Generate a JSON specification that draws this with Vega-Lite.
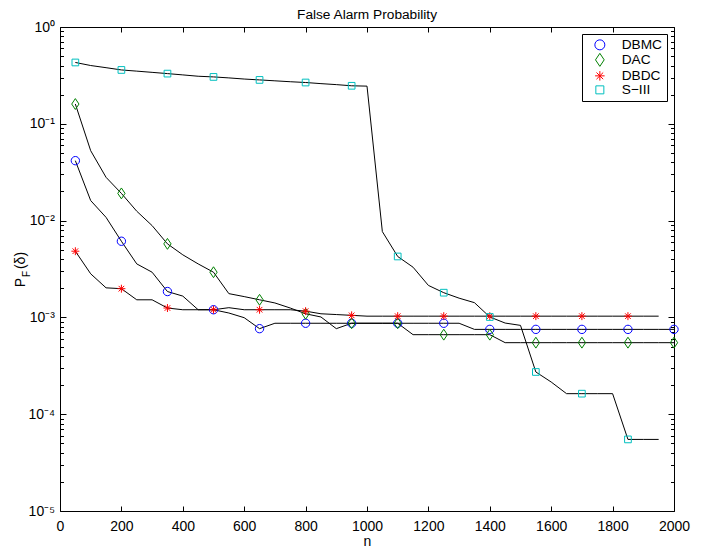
{
  "$schema": "https://vega.github.io/schema/vega-lite/v6.json",
  "width": 614,
  "height": 484,
  "autosize": {"type": "none"},
  "padding": {"left": 60, "top": 27, "right": 36, "bottom": 37},
  "background": "white",
  "title": {"text": "False Alarm Probability", "fontSize": 13.7, "fontWeight": "normal", "font": "Liberation Sans", "color": "black", "offset": 0, "dy": 13, "baseline": "alphabetic", "anchor": "middle"},
  "data": {"values": [
    {"s":"DBMC","n":50,"p":0.0416},{"s":"DBMC","n":100,"p":0.0161},{"s":"DBMC","n":150,"p":0.0108},{"s":"DBMC","n":200,"p":0.00612},
    {"s":"DBMC","n":250,"p":0.00357},{"s":"DBMC","n":300,"p":0.00293},{"s":"DBMC","n":350,"p":0.00185},{"s":"DBMC","n":400,"p":0.00166},
    {"s":"DBMC","n":450,"p":0.0012},{"s":"DBMC","n":500,"p":0.0012},{"s":"DBMC","n":550,"p":0.00111},{"s":"DBMC","n":600,"p":0.000993},
    {"s":"DBMC","n":650,"p":0.000765},{"s":"DBMC","n":700,"p":0.00087},{"s":"DBMC","n":750,"p":0.00087},{"s":"DBMC","n":800,"p":0.00087},
    {"s":"DBMC","n":850,"p":0.00087},{"s":"DBMC","n":900,"p":0.00087},{"s":"DBMC","n":950,"p":0.00087},{"s":"DBMC","n":1000,"p":0.00087},
    {"s":"DBMC","n":1050,"p":0.00087},{"s":"DBMC","n":1100,"p":0.00087},{"s":"DBMC","n":1150,"p":0.00087},{"s":"DBMC","n":1200,"p":0.00087},
    {"s":"DBMC","n":1250,"p":0.00087},{"s":"DBMC","n":1300,"p":0.00087},{"s":"DBMC","n":1350,"p":0.000752},{"s":"DBMC","n":1400,"p":0.000752},
    {"s":"DBMC","n":1450,"p":0.000752},{"s":"DBMC","n":1500,"p":0.000752},{"s":"DBMC","n":1550,"p":0.000752},{"s":"DBMC","n":1600,"p":0.000752},
    {"s":"DBMC","n":1650,"p":0.000752},{"s":"DBMC","n":1700,"p":0.000752},{"s":"DBMC","n":1750,"p":0.000752},{"s":"DBMC","n":1800,"p":0.000752},
    {"s":"DBMC","n":1850,"p":0.000752},{"s":"DBMC","n":1900,"p":0.000752},{"s":"DBMC","n":1950,"p":0.000752},{"s":"DBMC","n":2000,"p":0.000752},

    {"s":"DAC","n":50,"p":0.16},{"s":"DAC","n":100,"p":0.0527},{"s":"DAC","n":150,"p":0.028},{"s":"DAC","n":200,"p":0.0191},
    {"s":"DAC","n":250,"p":0.0125},{"s":"DAC","n":300,"p":0.00888},{"s":"DAC","n":350,"p":0.00575},{"s":"DAC","n":400,"p":0.00443},
    {"s":"DAC","n":450,"p":0.00357},{"s":"DAC","n":500,"p":0.00293},{"s":"DAC","n":550,"p":0.00176},{"s":"DAC","n":600,"p":0.00164},
    {"s":"DAC","n":650,"p":0.00152},{"s":"DAC","n":700,"p":0.00141},{"s":"DAC","n":750,"p":0.00125},{"s":"DAC","n":800,"p":0.00109},
    {"s":"DAC","n":850,"p":0.00101},{"s":"DAC","n":900,"p":0.000765},{"s":"DAC","n":950,"p":0.00087},{"s":"DAC","n":1000,"p":0.00087},
    {"s":"DAC","n":1050,"p":0.00087},{"s":"DAC","n":1100,"p":0.00087},{"s":"DAC","n":1150,"p":0.000663},{"s":"DAC","n":1200,"p":0.000663},
    {"s":"DAC","n":1250,"p":0.000663},{"s":"DAC","n":1300,"p":0.000663},{"s":"DAC","n":1350,"p":0.000663},{"s":"DAC","n":1400,"p":0.000663},
    {"s":"DAC","n":1450,"p":0.000548},{"s":"DAC","n":1500,"p":0.000548},{"s":"DAC","n":1550,"p":0.000548},{"s":"DAC","n":1600,"p":0.000548},
    {"s":"DAC","n":1650,"p":0.000548},{"s":"DAC","n":1700,"p":0.000548},{"s":"DAC","n":1750,"p":0.000548},{"s":"DAC","n":1800,"p":0.000548},
    {"s":"DAC","n":1850,"p":0.000548},{"s":"DAC","n":1900,"p":0.000548},{"s":"DAC","n":1950,"p":0.000548},{"s":"DAC","n":2000,"p":0.000548},

    {"s":"DBDC","n":50,"p":0.00483},{"s":"DBDC","n":100,"p":0.00282},{"s":"DBDC","n":150,"p":0.00202},{"s":"DBDC","n":200,"p":0.00198},
    {"s":"DBDC","n":250,"p":0.00152},{"s":"DBDC","n":300,"p":0.00152},{"s":"DBDC","n":350,"p":0.00125},{"s":"DBDC","n":400,"p":0.0012},
    {"s":"DBDC","n":450,"p":0.0012},{"s":"DBDC","n":500,"p":0.0012},{"s":"DBDC","n":550,"p":0.00126},{"s":"DBDC","n":600,"p":0.0012},
    {"s":"DBDC","n":650,"p":0.0012},{"s":"DBDC","n":700,"p":0.0012},{"s":"DBDC","n":750,"p":0.0012},{"s":"DBDC","n":800,"p":0.00116},
    {"s":"DBDC","n":850,"p":0.00109},{"s":"DBDC","n":900,"p":0.00107},{"s":"DBDC","n":950,"p":0.00105},{"s":"DBDC","n":1000,"p":0.00103},
    {"s":"DBDC","n":1050,"p":0.00103},{"s":"DBDC","n":1100,"p":0.00103},{"s":"DBDC","n":1150,"p":0.00103},{"s":"DBDC","n":1200,"p":0.00103},
    {"s":"DBDC","n":1250,"p":0.00103},{"s":"DBDC","n":1300,"p":0.00103},{"s":"DBDC","n":1350,"p":0.00103},{"s":"DBDC","n":1400,"p":0.00103},
    {"s":"DBDC","n":1450,"p":0.00103},{"s":"DBDC","n":1500,"p":0.00103},{"s":"DBDC","n":1550,"p":0.00103},{"s":"DBDC","n":1600,"p":0.00103},
    {"s":"DBDC","n":1650,"p":0.00103},{"s":"DBDC","n":1700,"p":0.00103},{"s":"DBDC","n":1750,"p":0.00103},{"s":"DBDC","n":1800,"p":0.00103},
    {"s":"DBDC","n":1850,"p":0.00103},{"s":"DBDC","n":1900,"p":0.00103},{"s":"DBDC","n":1950,"p":0.00103},

    {"s":"S-III","n":50,"p":0.43},{"s":"S-III","n":100,"p":0.4},{"s":"S-III","n":150,"p":0.38},{"s":"S-III","n":200,"p":0.36},
    {"s":"S-III","n":250,"p":0.35},{"s":"S-III","n":300,"p":0.34},{"s":"S-III","n":350,"p":0.33},{"s":"S-III","n":400,"p":0.32},
    {"s":"S-III","n":450,"p":0.31},{"s":"S-III","n":500,"p":0.305},{"s":"S-III","n":550,"p":0.298},{"s":"S-III","n":600,"p":0.29},
    {"s":"S-III","n":650,"p":0.284},{"s":"S-III","n":700,"p":0.278},{"s":"S-III","n":750,"p":0.272},{"s":"S-III","n":800,"p":0.267},
    {"s":"S-III","n":850,"p":0.26},{"s":"S-III","n":900,"p":0.254},{"s":"S-III","n":950,"p":0.247},{"s":"S-III","n":1000,"p":0.245},
    {"s":"S-III","n":1050,"p":0.0077},{"s":"S-III","n":1100,"p":0.00426},{"s":"S-III","n":1150,"p":0.0033},{"s":"S-III","n":1200,"p":0.00214},
    {"s":"S-III","n":1250,"p":0.0018},{"s":"S-III","n":1300,"p":0.00158},{"s":"S-III","n":1350,"p":0.00142},{"s":"S-III","n":1400,"p":0.00101},
    {"s":"S-III","n":1450,"p":0.000874},{"s":"S-III","n":1500,"p":0.000827},{"s":"S-III","n":1550,"p":0.000273},{"s":"S-III","n":1600,"p":0.000215},
    {"s":"S-III","n":1650,"p":0.000163},{"s":"S-III","n":1700,"p":0.000163},{"s":"S-III","n":1750,"p":0.000163},{"s":"S-III","n":1800,"p":0.000163},
    {"s":"S-III","n":1850,"p":0.0000549},{"s":"S-III","n":1900,"p":0.0000549},{"s":"S-III","n":1950,"p":0.0000549}
  ]},
  "config": {
    "view": {"stroke": "black", "strokeWidth": 1},
    "axis": {"grid": false, "domain": false, "labelFont": "Liberation Sans", "titleFont": "Liberation Sans", "labelColor": "black", "titleColor": "black", "tickColor": "black", "tickWidth": 1, "labelFontSize": 14, "titleFontSize": 14, "titleFontWeight": "normal", "labelFlush": false},
    "legend": {"orient": "none", "legendX": 522, "legendY": 7, "strokeColor": "black", "fillColor": "white", "padding": 4, "symbolOffset": 7, "labelFont": "Liberation Sans", "labelFontSize": 13.7, "labelColor": "black", "rowPadding": -1, "cornerRadius": 0, "symbolStrokeWidth": 1, "labelOffset": 15}
  },
  "resolve": {"axis": {"x": "independent", "y": "independent"}},
  "layer": [
    {
      "mark": {"type": "line", "color": "black", "strokeWidth": 1},
      "encoding": {
        "x": {"field": "n", "type": "quantitative", "scale": {"domain": [0, 2000], "nice": false, "zero": false},
              "axis": {"orient": "bottom", "values": [0,200,400,600,800,1000,1200,1400,1600,1800,2000], "format": "d", "tickSize": -5, "labelPadding": 24, "labelBaseline": "alphabetic", "title": "n", "titleY": 34, "titleBaseline": "alphabetic"}},
        "y": {"field": "p", "type": "quantitative", "scale": {"type": "log", "domain": [0.00001, 1], "nice": false},
              "axis": {"orient": "left", "values": [0.00001,0.0001,0.001,0.01,0.1,1], "tickSize": -6, "labelPadding": 11.5,
                       "labelExpr": "datum.value > 0.5 ? '10⁰' : datum.value > 0.05 ? '10⁻¹' : datum.value > 0.005 ? '10⁻²' : datum.value > 0.0005 ? '10⁻³' : datum.value > 0.00005 ? '10⁻⁴' : '10⁻⁵'",
                       "title": "P", "titleX": -36, "titleY": 255, "titleAlign": "center", "titleBaseline": "alphabetic"}},
        "detail": {"field": "s", "type": "nominal"}
      }
    },
    {
      "transform": [{"filter": "(datum.n - 50) % 150 == 0"}],
      "mark": {"type": "point", "filled": false, "strokeWidth": 1, "size": 70, "opacity": 1},
      "encoding": {
        "x": {"field": "n", "type": "quantitative",
              "axis": {"orient": "top", "values": [0,200,400,600,800,1000,1200,1400,1600,1800,2000], "tickSize": -5, "labels": false, "title": null}},
        "y": {"field": "p", "type": "quantitative",
              "axis": {"orient": "left", "values": [0.00002,0.00003,0.00004,0.00005,0.00006,0.00007,0.00008,0.00009,0.0002,0.0003,0.0004,0.0005,0.0006,0.0007,0.0008,0.0009,0.002,0.003,0.004,0.005,0.006,0.007,0.008,0.009,0.02,0.03,0.04,0.05,0.06,0.07,0.08,0.09,0.2,0.3,0.4,0.5,0.6,0.7,0.8,0.9],
                       "tickSize": -3.5, "labels": false, "title": "F", "titleFontSize": 10, "titleX": -31, "titleY": 246.5, "titleAlign": "center", "titleBaseline": "alphabetic"}},
        "color": {"field": "s", "type": "nominal", "scale": {"domain": ["DBMC", "DAC", "DBDC", "S-III"], "range": ["#0000ff", "#008000", "#ff0000", "#00bfbf"]},
                  "legend": {"title": null, "labelExpr": "replace(datum.label, '-', '−')"}},
        "shape": {"field": "s", "type": "nominal", "scale": {"domain": ["DBMC", "DAC", "DBDC", "S-III"], "range": ["circle", "M0,-1.3L0.87,0L0,1.3L-0.87,0Z", "M0,-0.95L0,0.95M-0.95,0L0.95,0M-0.67,-0.67L0.67,0.67M-0.67,0.67L0.67,-0.67", "M-0.8,-0.8L0.8,-0.8L0.8,0.8L-0.8,0.8Z"]},
                  "legend": {"title": null, "labelExpr": "replace(datum.label, '-', '−')"}}
      }
    },
    {
      "mark": {"type": "point", "opacity": 0},
      "encoding": {
        "x": {"field": "n", "type": "quantitative", "axis": null},
        "y": {"field": "p", "type": "quantitative",
              "axis": {"orient": "right", "values": [0.00001,0.0001,0.001,0.01,0.1,1], "tickSize": -6, "labels": false, "title": null}}
      }
    },
    {
      "mark": {"type": "point", "opacity": 0},
      "encoding": {
        "x": {"field": "n", "type": "quantitative", "axis": null},
        "y": {"field": "p", "type": "quantitative",
              "axis": {"orient": "right", "values": [0.00002,0.00003,0.00004,0.00005,0.00006,0.00007,0.00008,0.00009,0.0002,0.0003,0.0004,0.0005,0.0006,0.0007,0.0008,0.0009,0.002,0.003,0.004,0.005,0.006,0.007,0.008,0.009,0.02,0.03,0.04,0.05,0.06,0.07,0.08,0.09,0.2,0.3,0.4,0.5,0.6,0.7,0.8,0.9], "tickSize": -3.5, "labels": false, "title": null}}
      }
    },
    {
      "mark": {"type": "point", "opacity": 0},
      "encoding": {
        "x": {"field": "n", "type": "quantitative", "axis": null},
        "y": {"field": "p", "type": "quantitative",
              "axis": {"orient": "left", "ticks": false, "labels": false, "title": "(δ)", "titleX": -36, "titleY": 233, "titleAlign": "center", "titleBaseline": "alphabetic"}}
      }
    }
  ]
}
